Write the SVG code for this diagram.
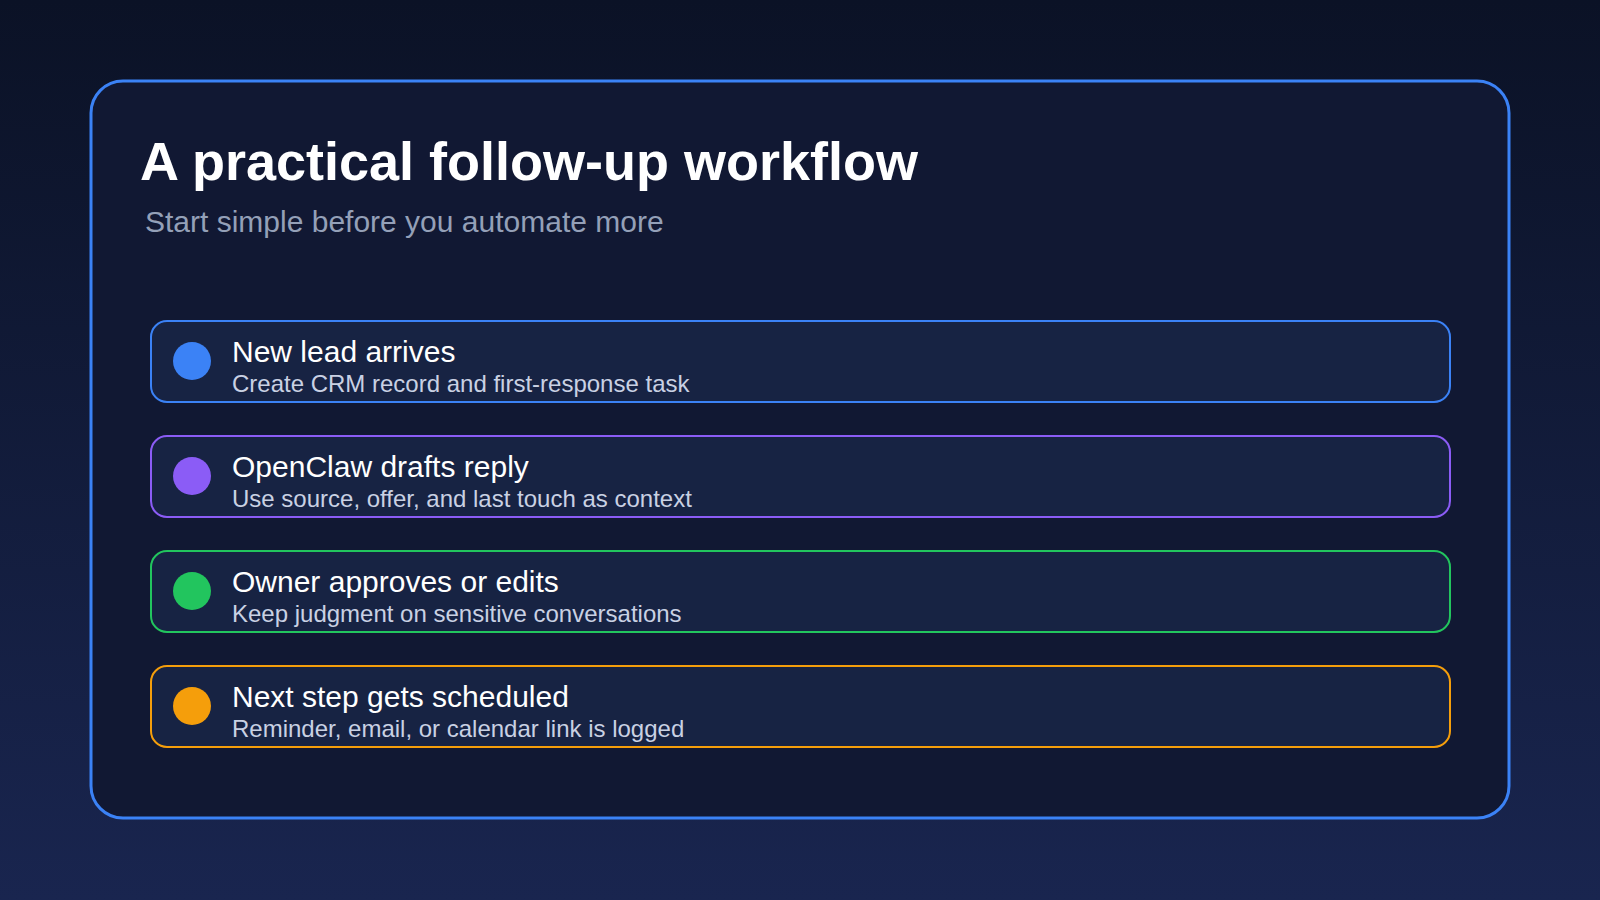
<svg xmlns="http://www.w3.org/2000/svg" width="1600" height="900" viewBox="0 0 1600 900">
<defs>
<linearGradient id="bg" x1="0" y1="0" x2="0" y2="1"><stop offset="0" stop-color="#0b1226"/><stop offset="1" stop-color="#19254f"/></linearGradient>
<style>
.t{font-family:"Liberation Sans",Arial,sans-serif}
.row{fill:#172343;stroke-width:2}
.h{fill:#ffffff;font-size:30px}
.s{fill:#c9d1e3;font-size:24px}
</style>
</defs>
<rect width="1600" height="900" fill="url(#bg)"/>
<rect x="91" y="81" width="1418" height="737" rx="32" fill="#111833" stroke="#3b82f6" stroke-width="3"/>
<text class="t" x="140" y="180" font-size="54" font-weight="bold" fill="#ffffff">A practical follow-up workflow</text>
<text class="t" x="145" y="232" font-size="30" fill="#94a0b8">Start simple before you automate more</text>
<g id="n1"><rect class="row" x="151" y="321" width="1299" height="81" rx="16" stroke="#3b82f6"/><circle cx="192" cy="361" r="19" fill="#3b82f6"/><text class="t h" x="232" y="362">New lead arrives</text><text class="t s" x="232" y="392">Create CRM record and first-response task</text></g>
<g id="n2"><rect class="row" x="151" y="436" width="1299" height="81" rx="16" stroke="#8b5cf6"/><circle cx="192" cy="476" r="19" fill="#8b5cf6"/><text class="t h" x="232" y="477">OpenClaw drafts reply</text><text class="t s" x="232" y="507">Use source, offer, and last touch as context</text></g>
<g id="n3"><rect class="row" x="151" y="551" width="1299" height="81" rx="16" stroke="#22c55e"/><circle cx="192" cy="591" r="19" fill="#22c55e"/><text class="t h" x="232" y="592">Owner approves or edits</text><text class="t s" x="232" y="622">Keep judgment on sensitive conversations</text></g>
<g id="n4"><rect class="row" x="151" y="666" width="1299" height="81" rx="16" stroke="#f59e0b"/><circle cx="192" cy="706" r="19" fill="#f59e0b"/><text class="t h" x="232" y="707">Next step gets scheduled</text><text class="t s" x="232" y="737">Reminder, email, or calendar link is logged</text></g>
<g id="connectors"/>
</svg>
